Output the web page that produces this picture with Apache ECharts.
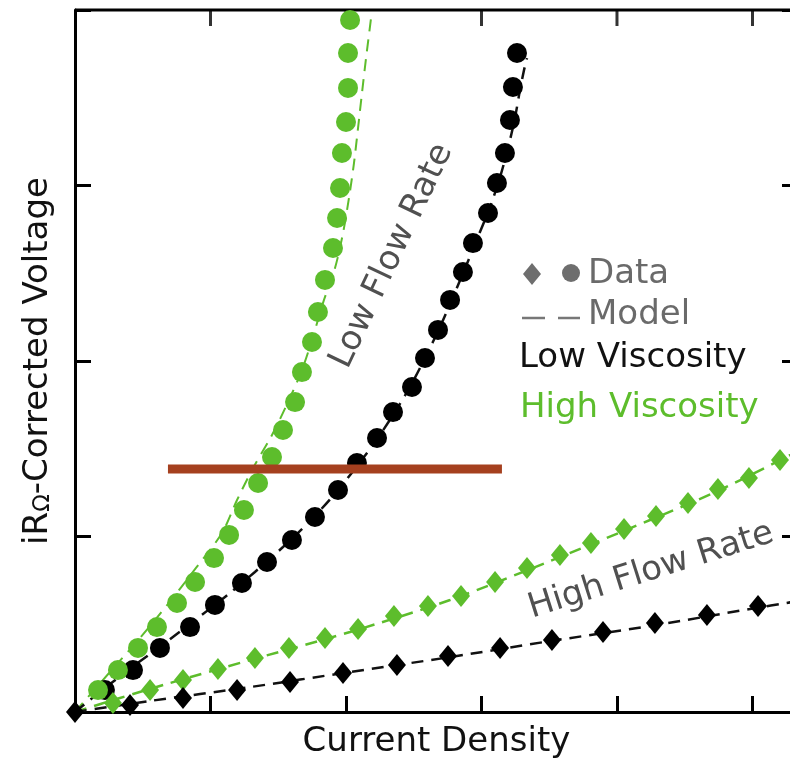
<!DOCTYPE html>
<html>
<head>
<meta charset="utf-8">
<script src="https://cdn.jsdelivr.net/npm/echarts@6/dist/echarts.min.js"></script>
<style>
html,body{margin:0;padding:0;background:#fff;}
#chart{width:790px;height:768px;}
</style>
</head>
<body>
<div id="chart"></div>
<script>
// ---- data (arbitrary units: x tick every 100, y tick every 100) ----
var xAxisMax = 533.6;
var yAxisMax = 400;
var xTickValues = [100, 200, 300, 400, 500];

// Low flow rate, high viscosity (green circles)
var greenCircles = [[17.0,12.5],[31.7,23.9],[46.5,36.5],[60.5,48.4],[75.3,62.1],[88.6,74.1],[102.6,87.7],[113.7,100.9],[124.7,115.1],[135.1,130.5],[145.4,145.3],[153.5,160.7],[162.4,176.6],[167.5,193.7],[174.9,210.8],[179.3,227.9],[184.5,246.2],[190.4,264.4],[193.4,281.5],[195.6,298.6],[197.0,318.5],[200.0,336.2],[201.5,355.6],[201.5,375.5],[203.0,394.3]];
// Low flow rate, low viscosity (black circles)
var blackCircles = [[22.1,12.5],[42.8,23.9],[62.7,36.5],[84.9,48.4],[103.3,61.0],[123.2,73.5],[141.7,85.5],[160.1,98.0],[177.1,111.1],[194.1,126.5],[208.1,141.9],[222.9,156.1],[234.7,170.9],[248.7,185.2],[258.3,201.7],[267.9,217.7],[276.8,234.8],[286.3,250.7],[293.7,267.2],[304.8,284.3],[311.4,301.4],[317.3,318.5],[321.0,337.3],[323.2,356.1],[326.2,375.5]];
// High flow rate, high viscosity (green diamonds)
var greenDiamonds = [[28.0,5.1],[55.4,12.5],[79.7,18.2],[105.5,24.5],[132.8,30.8],[157.9,36.5],[184.5,42.2],[208.9,47.3],[235.4,54.7],[260.5,60.4],[284.9,66.1],[310.0,74.1],[333.6,82.1],[357.9,89.5],[380.8,96.3],[405.2,104.3],[428.8,111.7],[452.4,119.1],[474.5,127.1],[497.4,133.3],[520.3,143.6]];
// High flow rate, low viscosity (black diamonds)
var blackDiamonds = [[0,0],[40.6,4.0],[79.7,8.0],[119.6,12.5],[158.7,17.1],[197.8,22.2],[237.6,26.8],[275.3,31.9],[313.7,36.5],[352.0,41.0],[389.7,45.6],[428.0,50.7],[466.4,55.3],[504.1,60.4]];

// Model curves
var modelGreenLow = [[0,0],[25.8,22.8],[48.0,42.2],[68.6,61.5],[89.3,82.1],[108.5,102.0],[119.6,120.8],[131.4,139.0],[145.4,157.8],[157.2,176.6],[167.5,194.9],[175.6,213.7],[183.0,233.0],[191.9,253.0],[197.8,272.9],[202.2,292.9],[205.9,312.8],[208.9,332.8],[211.8,352.7],[214.8,372.6],[218.5,395.4]];
var modelBlackLow = [[0,0],[22.1,13.7],[44.3,26.8],[66.4,39.3],[88.6,52.4],[110.7,65.5],[132.8,79.8],[153.5,94.0],[173.4,108.8],[190.4,123.1],[206.6,138.5],[221.4,153.8],[234.7,169.2],[247.2,185.2],[258.3,201.7],[269.4,219.4],[279.0,236.5],[288.6,254.1],[297.4,270.7],[306.3,287.7],[313.7,304.8],[319.6,321.4],[324.7,338.5],[328.4,354.4],[331.4,365.8],[333.6,372.6]];
var modelGreenHigh = [[0,0],[33.2,8.0],[70.1,16.5],[129.2,29.6],[203.0,45.6],[276.8,63.8],[350.6,86.0],[424.4,109.4],[476.0,126.5],[533.6,148.7]];
var modelBlackHigh = [[0,0],[55.4,6.3],[129.2,14.2],[203.0,22.8],[276.8,31.3],[350.6,40.4],[424.4,49.0],[498.2,58.7],[533.6,63.2]];

// Horizontal reference bar
var refBar = [[68.6,138.5],[315.1,138.5]];

var xTitle = 'Current Density';
var legendTexts = ['Data','Model','Low Viscosity','High Viscosity'];
var annotations = ['Low Flow Rate','High Flow Rate'];

var GREEN = '#5dbd2c';
var FONT = "'DejaVu Sans', Verdana, sans-serif";
var FS = 34;

var chart = echarts.init(document.getElementById('chart'), null, {renderer:'canvas'});

function axisCommon(pos, max){
  return {
    type:'value', position:pos, min:0, max:max, interval:100,
    axisLine:{show:true, onZero:false, lineStyle:{color:'#000', width:3}},
    axisTick:{show:true, inside:true, length:16, lineStyle:{color:'#000', width:3}},
    axisLabel:{show:false}, splitLine:{show:false}
  };
}

var xBottom = axisCommon('bottom', xAxisMax);
xBottom.name = xTitle;
xBottom.nameLocation = 'middle';
xBottom.nameGap = 13;
xBottom.nameTextStyle = {fontFamily:FONT, fontSize:FS, color:'#111', verticalAlign:'top'};

var yLeft = axisCommon('left', yAxisMax);
yLeft.name = '{a|iR}{b|Ω}{a|-Corrected Voltage}';
yLeft.nameLocation = 'middle';
yLeft.nameGap = 20;
yLeft.nameTextStyle = {fontFamily:FONT, fontSize:FS, color:'#111', verticalAlign:'bottom',
  rich:{a:{fontFamily:FONT, fontSize:FS, color:'#111', verticalAlign:'bottom'},
        b:{fontFamily:FONT, fontSize:23, color:'#111', verticalAlign:'bottom'}}};
var yRight = axisCommon('right', yAxisMax);

function lineSeries(data, color, width, z){
  return {type:'line', data:data, xAxisIndex:0, yAxisIndex:0, symbol:'none', smooth:0.3,
    lineStyle:{color:color, width:width, type:[12,8]}, z:z, silent:true, animation:false, clip:false};
}
function scatterSeries(data, color, symbol, size, z){
  return {type:'scatter', data:data, xAxisIndex:0, yAxisIndex:0, symbol:symbol, symbolSize:size,
    itemStyle:{color:color, opacity:1}, z:z, silent:true, animation:false, clip:false};
}

var txt = function(x, y, s, fill, align, rot){
  return {type:'text', x:x, y:y, rotation:rot||0, z:20, silent:true,
    style:{text:s, fill:fill, font:FS+'px '+FONT, fontSize:FS, fontFamily:FONT,
      align:align, verticalAlign:'middle', textAlign:align, textVerticalAlign:'middle'}};
};

// top frame (line along y = max) and its inward ticks, placed through the axes' scales
var topFrame = [[0, yAxisMax], [xAxisMax, yAxisMax]];
var topTicks = xTickValues.map(function(v){ return [v, yAxisMax]; });

var option = {
  animation:false,
  backgroundColor:'#fff',
  grid:{left:75, top:10, width:723, height:702, containLabel:false, outerBoundsMode:'none'},
  xAxis:[xBottom],
  yAxis:[yLeft, yRight],
  series:[
    {type:'line', data:topFrame, symbol:'none', lineStyle:{color:'#000', width:3}, z:1, silent:true, animation:false, clip:false},
    {type:'scatter', data:topTicks, symbol:'rect', symbolSize:[3,16], symbolOffset:[0,8],
      itemStyle:{color:'#000'}, z:1, silent:true, animation:false, clip:false},
    lineSeries(modelGreenLow, GREEN, 2, 2),
    lineSeries(modelBlackLow, '#111', 2.5, 2),
    lineSeries(modelGreenHigh, GREEN, 2.5, 2),
    lineSeries(modelBlackHigh, '#111', 2.5, 2),
    scatterSeries(blackCircles, '#000', 'circle', 20, 3),
    scatterSeries(greenCircles, GREEN, 'circle', 20, 4),
    scatterSeries(greenDiamonds, GREEN, 'diamond', [18,22], 5),
    scatterSeries(blackDiamonds, '#000', 'diamond', [18,22], 6),
    {type:'line', data:refBar, symbol:'none', lineStyle:{color:'#a5401f', width:9, cap:'butt'}, z:10, silent:true, animation:false}
  ],
  graphic:[
    {type:'polygon', shape:{points:[[532,263],[541,274],[532,285],[523,274]]}, style:{fill:'#6e6e6e'}, z:20, silent:true},
    {type:'circle', shape:{cx:571, cy:273, r:9}, style:{fill:'#6e6e6e'}, z:20, silent:true},
    {type:'line', shape:{x1:522, y1:318, x2:545, y2:318}, style:{stroke:'#777', lineWidth:2.5}, z:20, silent:true},
    {type:'line', shape:{x1:558, y1:318, x2:580, y2:318}, style:{stroke:'#777', lineWidth:2.5}, z:20, silent:true},
    txt(588, 274, legendTexts[0], '#6a6a6a', 'left'),
    txt(588, 315, legendTexts[1], '#6a6a6a', 'left'),
    txt(519, 358, legendTexts[2], '#111', 'left'),
    txt(520, 408, legendTexts[3], GREEN, 'left'),
    txt(392, 256, annotations[0], '#505050', 'center', 64.6*Math.PI/180),
    txt(651, 571, annotations[1], '#505050', 'center', 17.5*Math.PI/180)
  ]
};
chart.setOption(option);
</script>
</body>
</html>
